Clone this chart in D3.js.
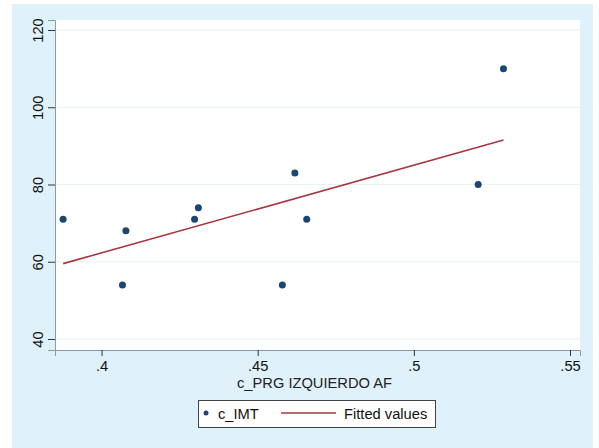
<!DOCTYPE html>
<html>
<head>
<meta charset="utf-8">
<script src="https://cdn.jsdelivr.net/npm/d3@7"></script>
<style>
  html, body { margin: 0; padding: 0; background: #fff; }
  svg { display: block; font-family: Arial, "Liberation Sans", sans-serif; }
</style>
</head>
<body>
<svg id="viz" width="599" height="448"></svg>
<script>
/* Data */

const prg = [0.3877, 0.4078, 0.4067, 0.4310, 0.4298, 0.4619, 0.4657, 0.4579, 0.5287, 0.5206];
const imt = [71, 68, 54, 74, 71, 83, 71, 54, 110, 80];
const xTicks = [0.4, 0.45, 0.5, 0.55];
const xTickLabels = ['.4', '.45', '.5', '.55'];
const yTicks = [40, 60, 80, 100, 120];
const xTitle = 'c_PRG IZQUIERDO AF';
const legendLabels = ['c_IMT', 'Fitted values'];

const points = prg.map((x, i) => ({ x: x, y: imt[i] }));

/* Fitted values (least squares) */

const mx = d3.mean(prg);
const my = d3.mean(imt);
const slope = d3.sum(points, d => (d.x - mx) * (d.y - my)) / d3.sum(points, d => (d.x - mx) ** 2);
const fit = d3.extent(prg).map(x => ({ x: x, y: my + slope * (x - mx) }));

/* Visualization */

const svg = d3.select('#viz');

const blue = '#dff1fa';
const navy = '#1a476f';
const maroon = '#a8363f';
const fs = 14.7;

// graph region
svg.append('rect').attr('x', 12).attr('y', 4).attr('width', 581).attr('height', 444).attr('fill', blue);

// plot region
const pLeft = 55, pRight = 580, pTop = 20, pBottom = 350;
svg.append('rect').attr('x', pLeft).attr('y', pTop).attr('width', pRight - pLeft).attr('height', pBottom - pTop).attr('fill', '#fff');

const xScale = d3.scaleLinear().domain([0.3851, 0.5532]).range([pLeft, pRight]);
const yScale = d3.scaleLinear().domain([37.15, 122.59]).range([pBottom, pTop]);

// grid lines
svg.append('g')
  .selectAll('line')
  .data(yTicks)
  .join('line')
  .attr('x1', pLeft)
  .attr('x2', pRight)
  .attr('y1', d => yScale(d))
  .attr('y2', d => yScale(d))
  .attr('stroke', '#e8f1f4')
  .attr('stroke-width', 1);

// y axis
const yAxis = svg.append('g')
  .attr('transform', 'translate(' + pLeft + ',0)')
  .call(d3.axisLeft(yScale).tickValues(yTicks).tickSize(7).tickPadding(5));
yAxis.select('.domain').attr('stroke', '#8a9ba6');
yAxis.selectAll('.tick line').attr('stroke', '#333');
yAxis.selectAll('.tick text')
  .attr('font-size', fs)
  .attr('fill', '#111')
  .attr('transform', 'rotate(-90)')
  .attr('x', 0)
  .attr('y', -12.5)
  .attr('text-anchor', 'middle')
  .attr('dy', 0);

// x axis
const xAxis = svg.append('g')
  .attr('transform', 'translate(0,' + pBottom + ')')
  .call(d3.axisBottom(xScale).tickValues(xTicks).tickFormat((d, i) => xTickLabels[i]).tickSize(6).tickPadding(5));
xAxis.select('.domain').attr('stroke', '#8a9ba6');
xAxis.selectAll('.tick line').attr('stroke', '#333');
xAxis.selectAll('.tick text').attr('font-size', fs).attr('fill', '#111');

// x title
svg.append('text')
  .attr('x', (pLeft + pRight) / 2 - 3)
  .attr('y', 388)
  .attr('text-anchor', 'middle')
  .attr('font-size', fs)
  .attr('fill', '#222')
  .text(xTitle);

// fitted line
svg.append('path')
  .datum(fit)
  .attr('fill', 'none')
  .attr('stroke', maroon)
  .attr('stroke-width', 1.6)
  .attr('d', d3.line().x(d => xScale(d.x)).y(d => yScale(d.y)));

// scatter
svg.append('g')
  .selectAll('circle')
  .data(points)
  .join('circle')
  .attr('cx', d => xScale(d.x))
  .attr('cy', d => yScale(d.y))
  .attr('r', 3.5)
  .attr('fill', navy);

// legend
const legend = svg.append('g');
legend.append('rect')
  .attr('x', 198.5).attr('y', 400.5).attr('width', 237).attr('height', 27)
  .attr('fill', '#fff').attr('stroke', '#444').attr('stroke-width', 1);
legend.append('circle').attr('cx', 206).attr('cy', 413).attr('r', 2.5).attr('fill', navy);
legend.append('text').attr('x', 218).attr('y', 418.5).attr('font-size', fs).attr('fill', '#111').text(legendLabels[0]);
legend.append('line').attr('x1', 281).attr('x2', 336).attr('y1', 413).attr('y2', 413)
  .attr('stroke', maroon).attr('stroke-width', 1.6);
legend.append('text').attr('x', 344).attr('y', 418.5).attr('font-size', fs).attr('fill', '#111').text(legendLabels[1]);
</script>
</body>
</html>
